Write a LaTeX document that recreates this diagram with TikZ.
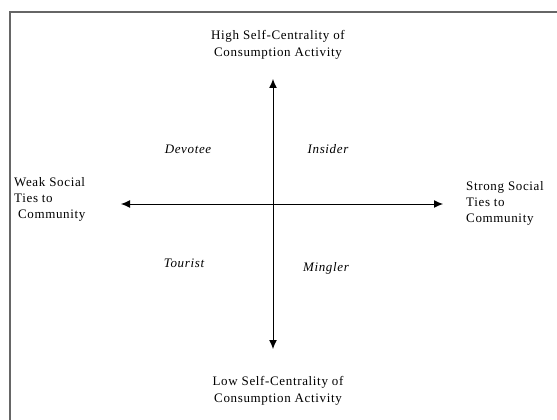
\documentclass[tikz,border=0pt]{standalone}
\usepackage{fontspec}
\setmainfont{Liberation Serif}[LetterSpace=5]
\usetikzlibrary{arrows.meta}
\begin{document}
\begin{tikzpicture}[x=1pt,y=-1pt,
  axis/.style={line width=1pt,{Latex[length=9pt,width=8pt]}-{Latex[length=9pt,width=8pt]}},
  pole/.style={font=\fontsize{13}{16.5}\selectfont,align=center,inner sep=0pt},
  side/.style={font=\fontsize{13}{16}\selectfont,align=left,inner sep=0pt,anchor=west},
  quad/.style={font=\fontsize{13}{14}\selectfont\itshape,inner sep=0pt},
  frame/.style={draw=black!60,line width=1.6pt}]
\useasboundingbox (0,0) rectangle (557,420);
% open frame: top and left edges
\draw[frame] (10,420) -- (10,12) -- (557,12);
% axis end points
\coordinate (up) at (273,79);
\coordinate (down) at (273,349);
\coordinate (left) at (121,204);
\coordinate (right) at (443,204);
\draw[axis] (down) -- (up);
\draw[axis] (left) -- (right);
% pole labels
\node[pole] (high) at (278,45) {High Self-Centrality of\\Consumption Activity};
\node[pole] (low) at (278,391) {Low Self-Centrality of\\Consumption Activity};
\node[side] (weak) at (14,199) {Weak Social\\Ties to\\\ Community};
\node[side] (strong) at (466,203) {Strong Social\\Ties to\\Community};
% quadrant labels
\node[quad] (devotee) at (188,149) {Devotee};
\node[quad] (insider) at (328,149) {Insider};
\node[quad] (tourist) at (184,263) {Tourist};
\node[quad] (mingler) at (326,268) {Mingler};
\end{tikzpicture}
\end{document}
